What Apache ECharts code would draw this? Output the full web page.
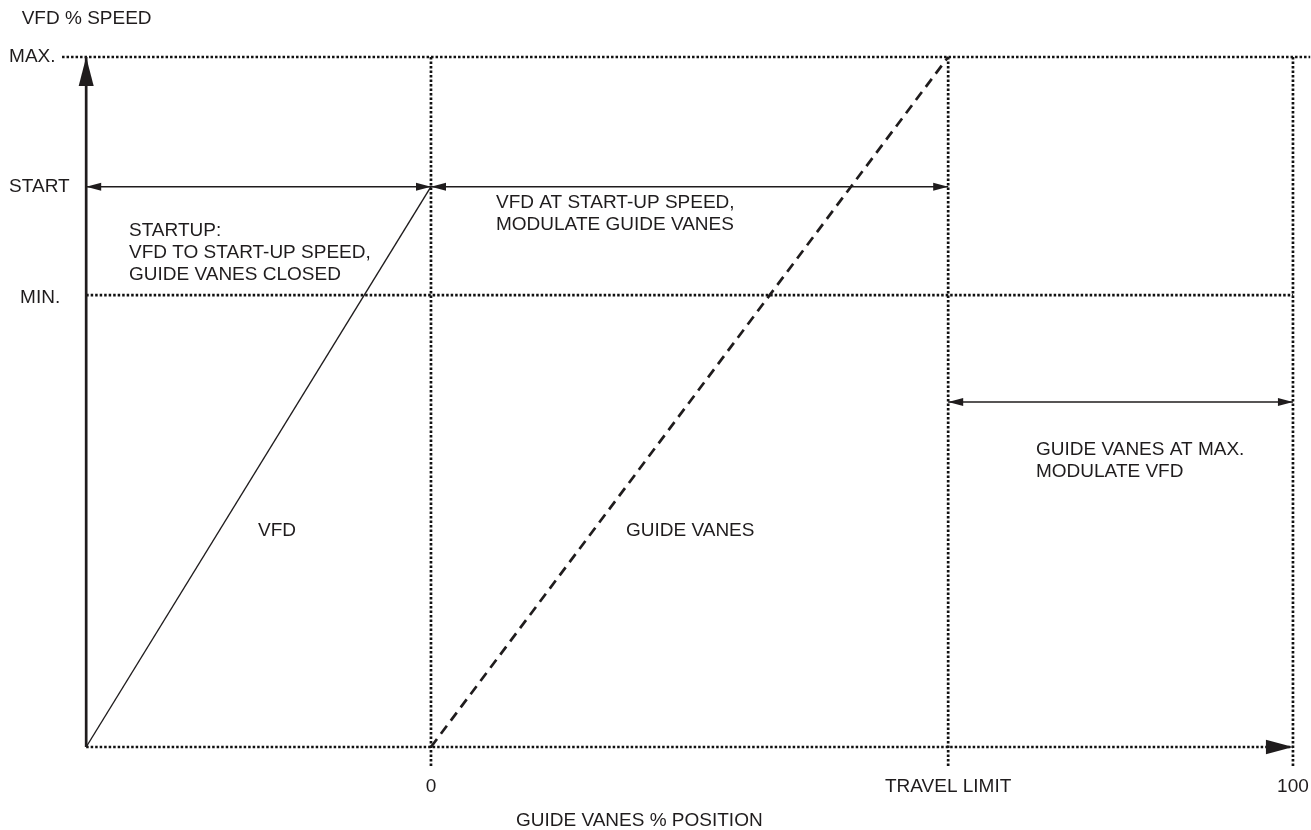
<!DOCTYPE html>
<html>
<head>
    <meta charset="utf-8">
    <title>VFD % SPEED / GUIDE VANES % POSITION</title>
</head>
<body style="margin: 0; background: #fff">
<div id="container" style="width: 1311px; height: 830px"></div>
<script src="https://cdn.jsdelivr.net/npm/echarts@6.0.0/dist/echarts.min.js"></script>
<script>
    // axis marks
    var positionTicks = [0, 60, 100];
    var positionTickLabels = ['0', 'TRAVEL LIMIT', '100'];
    var speedTicks = [100, 81.2, 65.5];
    var speedTickLabels = ['MAX.', 'START', 'MIN.'];

    // curves: [guide vane position, speed]
    var vfdCurve = [[-40, 0], [0, 81.2]];
    var guideVaneCurve = [[0, 0], [60, 100]];

    // dotted reference lines: [x1, y1, x2, y2]
    var referenceLines = [
        [-42.8, 100, 102, 100],
        [-40, 65.5, 100, 65.5],
        [-40, 0, 100, 0],
        [0, 100, 0, -3],
        [60, 100, 60, -3],
        [100, 100, 100, -3]
    ];
    // range arrows (both ends)
    var spanArrows = [
        [-40, 81.2, 0, 81.2],
        [0, 81.2, 60, 81.2],
        [60, 50, 100, 50]
    ];
    var speedAxisArrow = [[-40, 0, -40, 100]];
    var positionAxisArrow = [[90, 0, 100, 0]];

    var ink = '#1f1c1d';
    var font = "'Liberation Sans', Arial, Helvetica, sans-serif";
    var fs = 19;

    var myChart = echarts.init(document.getElementById('container'), null, {renderer: 'canvas'});

    function dottedLine(params, api) {
        var a = api.coord([api.value(0), api.value(1)]);
        var b = api.coord([api.value(2), api.value(3)]);
        return {
            type: 'line',
            shape: {x1: a[0], y1: a[1], x2: b[0], y2: b[1]},
            style: {stroke: '#111', lineWidth: 2.7, lineDash: [2.5, 2.0]}
        };
    }

    // arrow with filled heads
    function arrow(headLen, headHalf, both, width, showLine) {
        return function (params, api) {
            var a = api.coord([api.value(0), api.value(1)]);
            var b = api.coord([api.value(2), api.value(3)]);
            function head(tip, from) {
                var dx = tip[0] - from[0], dy = tip[1] - from[1];
                var len = Math.sqrt(dx * dx + dy * dy);
                var ux = dx / len, uy = dy / len;
                var bx = tip[0] - ux * headLen, by = tip[1] - uy * headLen;
                return {
                    type: 'polygon',
                    shape: {points: [tip, [bx - uy * headHalf, by + ux * headHalf], [bx + uy * headHalf, by - ux * headHalf]]},
                    style: {fill: ink}
                };
            }
            var children = [];
            if (showLine) {
                children.push({
                    type: 'line',
                    shape: {x1: a[0], y1: a[1], x2: b[0], y2: b[1]},
                    style: {stroke: ink, lineWidth: width}
                });
            }
            children.push(head(b, a));
            if (both) children.push(head(a, b));
            return {type: 'group', children: children};
        };
    }

    function txt(text, x, y, align, vAlign, lh) {
        return {
            type: 'text',
            x: x,
            y: y,
            silent: true,
            style: {
                text: text,
                fill: ink,
                fontSize: fs,
                fontFamily: font,
                align: align,
                verticalAlign: vAlign,
                lineHeight: lh || 22
            }
        };
    }

    var option = {
        animation: false,
        backgroundColor: '#fff',
        grid: {left: 51.7, right: 0.8, top: 57, bottom: 83, containLabel: false, outerBoundsMode: 'none'},
        xAxis: {
            type: 'value',
            min: -44,
            max: 102,
            axisLine: {show: false, onZero: false},
            axisTick: {show: false},
            splitLine: {show: false},
            axisLabel: {
                customValues: positionTicks,
                margin: 30,
                color: ink,
                fontSize: fs,
                fontFamily: font,
                formatter: function (v) {
                    return positionTickLabels[positionTicks.indexOf(v)];
                }
            }
        },
        yAxis: {
            type: 'value',
            min: 0,
            max: 100,
            axisLine: {show: false, onZero: false},
            axisTick: {show: false},
            splitLine: {show: false},
            axisLabel: {
                customValues: speedTicks,
                margin: 42.6,
                align: 'left',
                color: ink,
                fontSize: fs,
                fontFamily: font,
                formatter: function (v) {
                    var s = speedTickLabels[speedTicks.indexOf(v)];
                    return s === 'MIN.' ? '{i|' + s + '}' : s;
                },
                rich: {
                    i: {padding: [6, 0, 0, 11], color: ink, fontSize: fs, fontFamily: font}
                }
            }
        },
        series: [
            {
                name: 'reference',
                type: 'custom',
                silent: true,
                renderItem: dottedLine,
                encode: {x: [0, 2], y: [1, 3]},
                data: referenceLines,
                z: 1
            },
            {
                name: 'VFD',
                type: 'line',
                silent: true,
                clip: false,
                symbol: 'none',
                data: vfdCurve,
                lineStyle: {color: ink, width: 1.4},
                z: 3
            },
            {
                name: 'GUIDE VANES',
                type: 'line',
                silent: true,
                clip: false,
                symbol: 'none',
                data: guideVaneCurve,
                lineStyle: {color: ink, width: 2.7, type: [10, 6.5]},
                z: 3
            },
            {
                name: 'spans',
                type: 'custom',
                silent: true,
                renderItem: arrow(15, 4, true, 1.4, true),
                encode: {x: [0, 2], y: [1, 3]},
                data: spanArrows,
                z: 4
            },
            {
                name: 'speed axis',
                type: 'custom',
                silent: true,
                renderItem: arrow(29, 7.5, false, 2.7, true),
                encode: {x: [0, 2], y: [1, 3]},
                data: speedAxisArrow,
                z: 5
            },
            {
                name: 'position axis',
                type: 'custom',
                silent: true,
                renderItem: arrow(27, 7.2, false, 2, false),
                encode: {x: [0, 2], y: [1, 3]},
                data: positionAxisArrow,
                z: 5
            }
        ],
        graphic: [
            txt('VFD % SPEED', 21.7, 19, 'left', 'middle'),
            txt('STARTUP:\nVFD TO START-UP SPEED,\nGUIDE VANES CLOSED', 129, 220, 'left', 'top', 22),
            txt('VFD AT START-UP SPEED,\nMODULATE GUIDE VANES', 496, 191.7, 'left', 'top', 22.3),
            txt('GUIDE VANES AT MAX.\nMODULATE VFD', 1036, 439, 'left', 'top', 22),
            txt('VFD', 258, 531, 'left', 'middle'),
            txt('GUIDE VANES', 626, 531, 'left', 'middle'),
            txt('GUIDE VANES % POSITION', 639.3, 821, 'center', 'middle')
        ]
    };

    myChart.setOption(option);
</script>
</body>
</html>
